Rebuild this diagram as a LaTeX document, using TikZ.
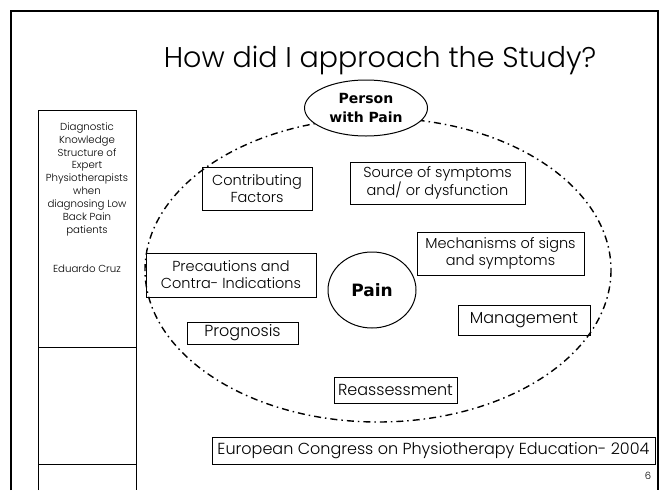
\documentclass[tikz,border=0pt]{standalone}
\usepackage{fontspec}
\setmainfont{Poppins Light}
\newfontfamily\headfont{DejaVu Sans}
\usetikzlibrary{shapes,positioning}
\tikzstyle{factor} = [rectangle, draw, line width=1pt, align=center,
    inner sep=0pt, font=\fontsize{14.5}{17}\selectfont]
\tikzstyle{stage} = [factor, font=\fontsize{16}{18}\selectfont]
\tikzstyle{core} = [ellipse, draw, line width=1pt, fill=white,
    inner sep=0pt, align=center]
\tikzstyle{border} = [line width=2.5pt]
\tikzstyle{field} = [dash pattern=on 7pt off 4pt on 1.5pt off 4pt, line width=1.4pt]

\begin{document}
\begin{tikzpicture}[x=1pt, y=-1pt]
    \useasboundingbox (0,0) rectangle (666,490);

    % slide frame and side panel
    \draw[border] (11,490) -- (11,11) -- (658,11) -- (658,490);
    \draw[line width=1pt] (38,490) -- (38,110) -- (136,110) -- (136,490);
    \draw[line width=1pt] (38,347) -- (136,347);
    \draw[line width=1pt] (38,464) -- (136,464);
    \node[anchor=north, align=center, font=\fontsize{10.2}{12.9}\selectfont] (sideNote) at (87,119)
        {Diagnostic\\Knowledge\\Structure of\\Expert\\Physiotherapists\\when\\diagnosing Low\\Back Pain\\patients\\[25.8pt]Eduardo Cruz};

    \node[font=\fontsize{28.5}{32}\selectfont] (title) at (380,60) {How did I approach the Study?};

    % field round the patient
    \draw[field] (378,270) ellipse [x radius=233, y radius=152];

    \node[core, minimum width=123pt, minimum height=56pt,
        font=\headfont\bfseries\fontsize{14}{19}\selectfont] (person) at (366,108) {Person\\with Pain};
    \node[core, minimum width=88pt, minimum height=76pt,
        font=\headfont\bfseries\fontsize{17}{20}\selectfont] (pain) at (372,290) {Pain};

    \node[factor, minimum width=110pt, minimum height=43pt] (contributing) at (257,188.5) {Contributing\\Factors};
    \node[factor, minimum width=175pt, minimum height=42pt] (source) at (437.5,183) {Source of symptoms\\and/ or dysfunction};
    \node[factor, minimum width=167pt, minimum height=43pt] (mechanisms) at (500.5,253.5) {Mechanisms of signs\\and symptoms};
    \node[factor, minimum width=170pt, minimum height=44pt] (precautions) at (231,275) {Precautions and\\Contra- Indications};

    \node[stage, minimum width=111pt, minimum height=22pt] (prognosis) at (242.5,333) {Prognosis};
    \node[stage, minimum width=132pt, minimum height=30pt] (management) at (524,320) {Management};
    \node[stage, minimum width=123pt, minimum height=26pt] (reassessment) at (395.5,390) {Reassessment};

    \node[stage, minimum width=443pt, minimum height=27pt] (congress) at (433.5,450.5) {European Congress on Physiotherapy Education- 2004};
    \node[font=\fontsize{10}{12}\selectfont] (pageNo) at (648,476) {6};
\end{tikzpicture}
\end{document}
